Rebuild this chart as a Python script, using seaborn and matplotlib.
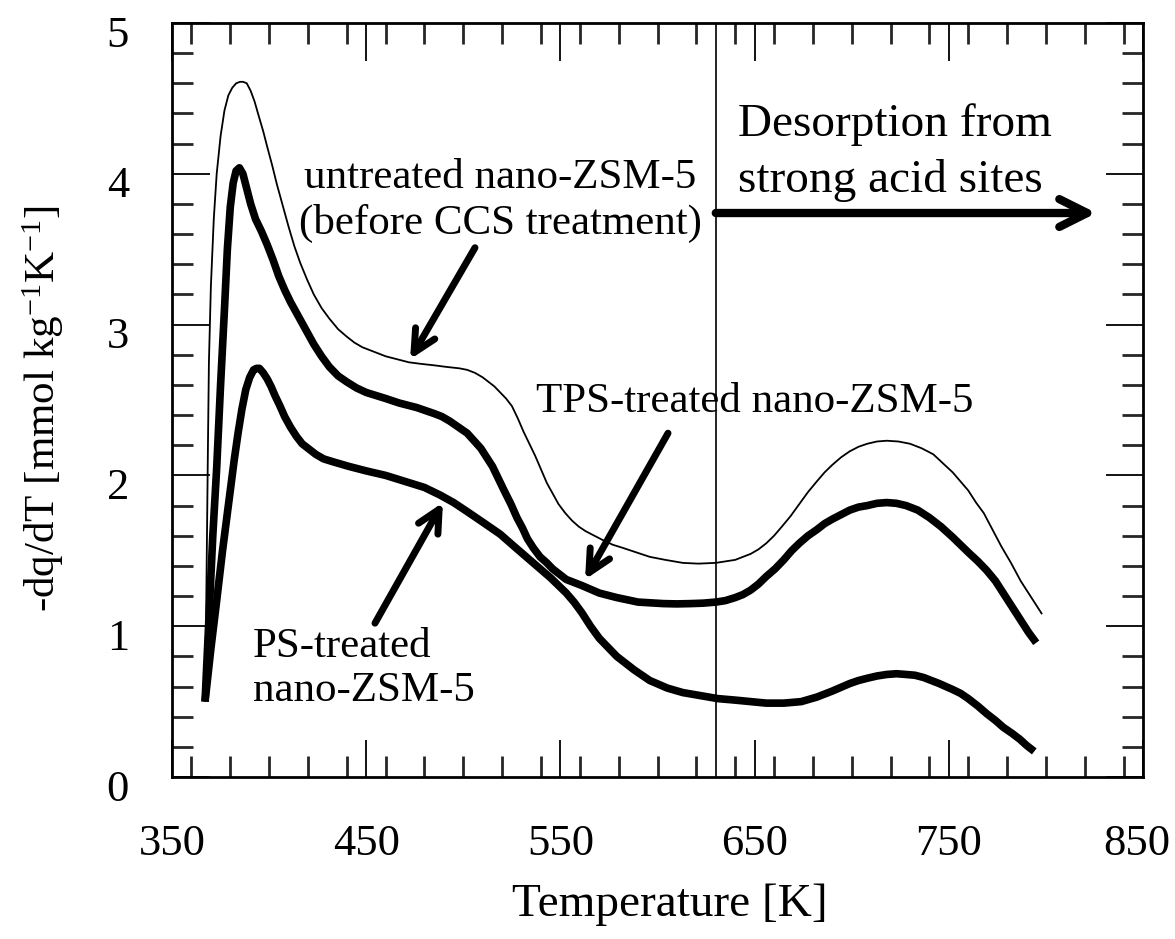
import numpy as np
import pandas as pd
import seaborn as sns
import matplotlib.pyplot as plt
from matplotlib.ticker import MultipleLocator
from matplotlib.transforms import ScaledTranslation

# untreated nano-ZSM-5 (thin line)
t_untreated = [367, 367.5, 368, 368.5, 369, 370, 371.5, 373, 375, 377, 379, 381, 383, 385, 386.6,
               388.5, 390.5, 392.5, 394.5, 397, 399, 401.5, 404, 407, 410, 413, 416, 419.5, 423,
               427, 431, 435.5, 440, 444, 448, 454, 460, 466, 472, 478, 485, 491, 498, 502, 506,
               510, 513, 516, 519, 522, 525, 528, 531, 534, 537, 540, 543, 546, 549, 552.5, 556,
               559.5, 563, 567.5, 572, 577, 582, 589, 596, 604, 613, 621, 630, 635, 640, 644,
               648, 652, 656, 660, 664, 668.5, 673, 677.5, 682, 686, 690, 694.5, 699, 703.5, 708,
               713, 718, 724, 730, 736, 742, 747, 752, 756, 760, 764, 768, 772.5, 777, 782,
               787, 792.5, 798]
y_untreated = [0.5, 1.0, 1.6, 2.2, 2.75, 3.25, 3.7, 4.0, 4.25, 4.42, 4.52, 4.57, 4.6, 4.61, 4.61,
               4.6, 4.55, 4.48, 4.39, 4.28, 4.18, 4.06, 3.93, 3.79, 3.65, 3.52, 3.41, 3.3, 3.2,
               3.11, 3.04, 2.97, 2.92, 2.88, 2.85, 2.82, 2.79, 2.77, 2.75, 2.74, 2.73, 2.72, 2.71, 2.7, 2.68,
               2.65, 2.62, 2.59, 2.55, 2.51, 2.46, 2.38, 2.29, 2.21, 2.13, 2.04, 1.95, 1.88, 1.81, 1.75, 1.7,
               1.66, 1.63, 1.6, 1.57, 1.54, 1.52, 1.49, 1.46, 1.44, 1.42, 1.415, 1.42, 1.43, 1.44, 1.46,
               1.48, 1.51, 1.55, 1.6, 1.66, 1.73, 1.81, 1.89, 1.96, 2.02, 2.07, 2.12, 2.16, 2.19, 2.21,
               2.225, 2.23, 2.225, 2.21, 2.18, 2.14, 2.08, 2.02, 1.96, 1.9, 1.82, 1.75, 1.64, 1.53, 1.42,
               1.3, 1.19, 1.08]

# TPS-treated nano-ZSM-5 (thick line, middle)
t_tps = [367, 369, 371, 373, 375, 377, 378.5, 380, 381.5, 383, 384.7, 386.5, 388.5, 390.5, 393,
         396, 399, 402, 405, 408, 411, 414, 417, 420, 423, 427, 431, 435.5, 440, 445, 450, 455,
         460, 467, 476, 485, 489, 493, 497.5, 502, 505.5, 509, 512, 515, 518, 521, 524.5, 527.6,
         530.5, 533, 536, 539.5, 543, 546, 549.5, 553, 557, 561, 565.5, 570, 574.5, 579, 584.5,
         590, 596.5, 603, 610, 617, 623.5, 630, 635, 640, 644, 648, 652, 656, 660.5, 665, 669,
         673, 677.5, 682, 686, 690, 694.5, 699, 703.5, 708, 713, 718, 723, 728, 734, 740, 746,
         752, 756, 760, 765, 769.5, 774, 778, 782.5, 787, 791, 795]
y_tps = [0.5, 1.05, 1.6, 2.05, 2.6, 3.1, 3.5, 3.78, 3.94, 4.02, 4.04, 4.0, 3.9, 3.8, 3.7,
         3.62, 3.53, 3.43, 3.32, 3.23, 3.15, 3.08, 3.01, 2.94, 2.87, 2.79, 2.72, 2.66, 2.62, 2.58, 2.55, 2.53,
         2.51, 2.48, 2.45, 2.41, 2.39, 2.36, 2.32, 2.28, 2.23, 2.18, 2.12, 2.06, 1.98, 1.9, 1.81, 1.72,
         1.65, 1.58, 1.52, 1.46, 1.42, 1.38, 1.345, 1.31, 1.29, 1.27, 1.245, 1.22, 1.205, 1.19, 1.175,
         1.16, 1.155, 1.15, 1.148, 1.15, 1.153, 1.16, 1.17, 1.19, 1.21, 1.24, 1.28, 1.33, 1.38, 1.44, 1.5,
         1.55, 1.6, 1.64, 1.68, 1.71, 1.74, 1.77, 1.79, 1.8, 1.815, 1.82, 1.815, 1.8, 1.77, 1.72, 1.66,
         1.59, 1.54, 1.49, 1.43, 1.37, 1.3, 1.22, 1.13, 1.04, 0.96, 0.89]

# PS-treated nano-ZSM-5 (thick line, lowest)
t_ps = [367, 370, 373, 376, 378, 380, 382, 384, 386, 388, 390, 392, 393.5, 395, 397, 399, 401,
        403, 405.6, 408, 411, 414, 417, 420, 424, 428, 433, 437, 441, 445.5, 450, 455, 460,
        465, 470, 475, 480, 484, 488, 491.5, 495, 498.5, 502, 506, 510, 514.5, 519, 523, 527,
        531.5, 536, 540.5, 545, 549, 553, 557, 561, 565.5, 570, 574.5, 579, 583.5, 588, 592,
        596, 600.5, 605, 609, 613, 617.5, 622, 626.5, 631, 640, 648, 656, 665, 669.5, 674, 678,
        682, 686, 690, 694.5, 699, 703.5, 708, 713, 718, 723, 728, 732.5, 737, 741, 745, 748.5,
        752, 756, 760, 765, 769.5, 774, 778, 782.5, 786.6, 790, 794]
y_ps = [0.5, 0.85, 1.17, 1.5, 1.7, 1.9, 2.1, 2.28, 2.44, 2.57, 2.65, 2.7, 2.71, 2.71, 2.68, 2.64, 2.59,
        2.53, 2.46, 2.39, 2.32, 2.26, 2.21, 2.18, 2.14, 2.11, 2.09, 2.075, 2.06, 2.045, 2.03, 2.015, 2.0,
        1.98, 1.96, 1.94, 1.92, 1.895, 1.87, 1.845, 1.82, 1.79, 1.76, 1.725, 1.69, 1.65, 1.61, 1.565, 1.52,
        1.47, 1.42, 1.37, 1.32, 1.27, 1.22, 1.16, 1.09, 1.0, 0.92, 0.86, 0.8, 0.755, 0.71, 0.675,
        0.64, 0.615, 0.59, 0.575, 0.56, 0.55, 0.54, 0.53, 0.52, 0.51, 0.5, 0.49, 0.49, 0.495, 0.5, 0.515,
        0.53, 0.55, 0.57, 0.595, 0.62, 0.64, 0.655, 0.67, 0.68, 0.685, 0.68, 0.675, 0.66, 0.64, 0.62, 0.6,
        0.58, 0.555, 0.52, 0.47, 0.42, 0.375, 0.33, 0.29, 0.25, 0.21, 0.17]

x_ticks = [350, 450, 550, 650, 750, 850]
y_ticks = [0, 1, 2, 3, 4, 5]
t_strong = 630  # boundary of strong acid site desorption

sns.set_style("ticks")
plt.rcParams['font.family'] = ['Liberation Serif', 'DejaVu Serif']
plt.rcParams['mathtext.fontset'] = 'custom'
plt.rcParams['mathtext.rm'] = 'Liberation Serif'
plt.rcParams['mathtext.it'] = 'Liberation Serif:italic'
plt.rcParams['font.size'] = 34
plt.rcParams['text.color'] = 'black'
plt.rcParams['axes.labelcolor'] = 'black'

fig = plt.figure(figsize=(11.75, 9.39), dpi=100)
ax = fig.add_axes([0.1464, 0.1725, 0.8264, 0.803])

df_u = pd.DataFrame({'T': t_untreated, 'y': y_untreated})
df_tps = pd.DataFrame({'T': t_tps, 'y': y_tps})
df_ps = pd.DataFrame({'T': t_ps, 'y': y_ps})

sns.lineplot(data=df_u, x='T', y='y', sort=False, estimator=None, color='black', lw=1.3, ax=ax,
             solid_capstyle='butt', solid_joinstyle='round')
sns.lineplot(data=df_tps, x='T', y='y', sort=False, estimator=None, color='black', lw=5.5, ax=ax,
             solid_capstyle='butt', solid_joinstyle='round')
sns.lineplot(data=df_ps, x='T', y='y', sort=False, estimator=None, color='black', lw=5.5, ax=ax,
             solid_capstyle='butt', solid_joinstyle='round')

ax.axvline(t_strong, color='black', lw=1.2)

ax.set_xlim(350, 850)
ax.set_ylim(0, 5)
ax.set_xticks(x_ticks)
ax.set_yticks(y_ticks)
ax.xaxis.set_minor_locator(MultipleLocator(20))
ax.yaxis.set_minor_locator(MultipleLocator(0.2))
ax.tick_params(which='major', direction='in', length=27, width=1.3, top=True, right=True,
               labelsize=32, colors='black')
ax.tick_params(axis='x', which='major', pad=34)
ax.tick_params(axis='y', which='major', pad=31)
ax.tick_params(which='minor', direction='in', length=15, width=2, top=True, right=True)
for s in ax.spines.values():
    s.set_linewidth(2)
    s.set_color('black')

# nudge tick labels like the original (y labels sit a bit low, 850 kept inside)
for lbl in ax.get_yticklabels():
    lbl.set_transform(lbl.get_transform() + ScaledTranslation(0, -0.08, fig.dpi_scale_trans))
last = ax.get_xticklabels()[-1]
last.set_transform(last.get_transform() + ScaledTranslation(-0.06, 0, fig.dpi_scale_trans))

ax.set_xlabel('Temperature [K]', va='center')
ax.xaxis.set_label_coords(0.513, -0.17)
ax.set_ylabel('-dq/dT [mmol kg$^{-1}$K$^{-1}$]', va='center', fontsize=31)
ax.yaxis.set_label_coords(-0.133, 0.489)

# annotations
arrow_kw = dict(arrowstyle='->,head_length=0.4,head_width=0.2', lw=5, color='black',
                shrinkA=0, shrinkB=0, mutation_scale=40, capstyle='round')
ax.text(519, 3.82, 'untreated nano-ZSM-5\n(before CCS treatment)', ha='center', va='center',
        multialignment='center', linespacing=1.25, fontsize=31)
ax.annotate('', xy=(472.6, 2.77), xytext=(506, 3.51), arrowprops=arrow_kw)

ax.text(650, 2.42, 'TPS-treated nano-ZSM-5', ha='center', va='baseline', fontsize=31)
ax.annotate('', xy=(562.7, 1.31), xytext=(605.4, 2.28), arrowprops=arrow_kw)

ax.text(391.7, 0.716, 'PS-treated\nnano-ZSM-5', ha='left', va='center', linespacing=1.2,
        fontsize=31)
ax.annotate('', xy=(489.5, 1.82), xytext=(454.5, 1.02), arrowprops=arrow_kw)

ax.text(641.5, 4.14, 'Desorption from\nstrong acid sites', ha='left', va='center', linespacing=1.4)
ax.annotate('', xy=(826, 3.74), xytext=(t_strong, 3.74),
            arrowprops=dict(arrow_kw, lw=6, mutation_scale=50))

fig.savefig('out.png', dpi=100)
